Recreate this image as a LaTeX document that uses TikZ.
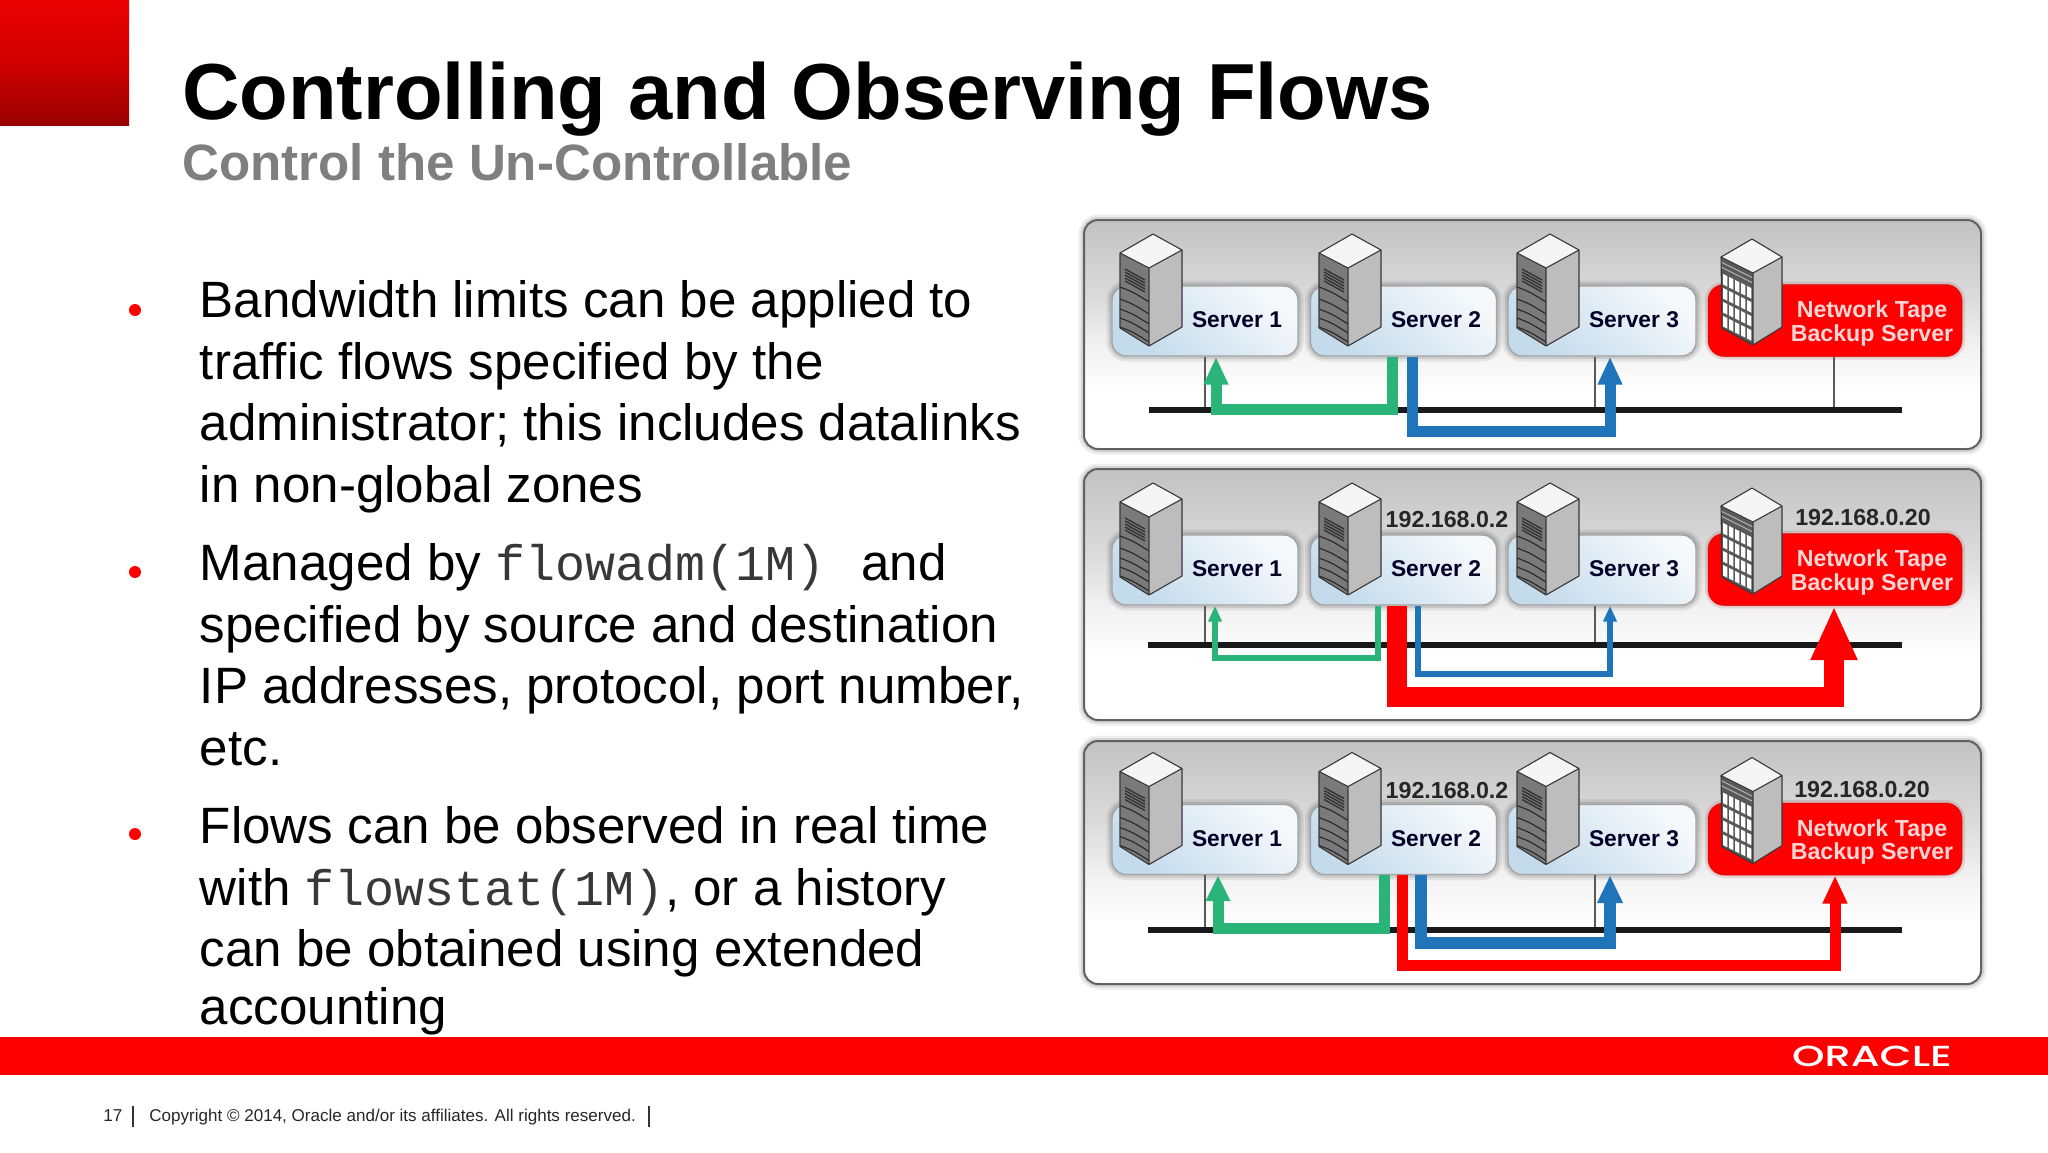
\documentclass[tikz,border=0pt]{standalone}
\usepackage{fontspec}
\usepackage{graphicx}
\setmainfont{Liberation Sans}
\setmonofont{Liberation Mono}
\newfontfamily\logofont{Poppins Medium}
\usetikzlibrary{arrows.meta,calc}
\definecolor{orared}{HTML}{FF0000}
\definecolor{flowgreen}{HTML}{2BB477}
\definecolor{flowblue}{HTML}{1F74BA}
\definecolor{subgrey}{HTML}{7F7F7F}
\definecolor{pilllow}{HTML}{C4DBEC}
\definecolor{pillhigh}{HTML}{F6F9FB}
\newcommand\fpt[1]{\fontsize{#1}{#1}\selectfont}
\newcommand\mono[1]{{\ttfamily\fpt{25}\color{black!78}#1}}
\pgfdeclareverticalshading{panelshade}{100bp}{color(0bp)=(white); color(25bp)=(white); color(37bp)=(white); color(47bp)=(black!5); color(58bp)=(black!14); color(75bp)=(black!24); color(100bp)=(black!24)}
\tikzset{
  x=0.5pt,y=-0.5pt,
  softedge/.style={preaction={draw=black,draw opacity=.07,line width=5.5pt},preaction={draw=black,draw opacity=.1,line width=3pt}},
  panelbox/.style={softedge,rounded corners=7pt,draw=black!62,line width=1pt,shading=panelshade},
  pillbox/.style={softedge,draw=black!36,line width=.7pt,rounded corners=7pt,bottom color=pilllow,top color=pillhigh,shading angle=-40,minimum height=35pt},
  redbox/.style={preaction={draw=red!60!black,draw opacity=.12,line width=3pt},draw=red!80!black,draw opacity=.5,line width=.5pt,rounded corners=8pt,fill=orared,minimum width=127pt,minimum height=36pt},
  srvtext/.style={font=\bfseries\fpt{11.4},text=black!85!blue},
  redtext/.style={font=\bfseries\fpt{11.6},text=red!16!white,align=center},
  iptext/.style={font=\bfseries\fpt{11.6},text=black!85},
  busline/.style={draw=black!90},
  thinline/.style={draw=black!65,line width=.55pt},
  flowg/.style={draw=flowgreen},
  flowb/.style={draw=flowblue},
  flowr/.style={draw=orared},
  body/.style={anchor=base west,font=\fpt{25.55},inner sep=0pt,text=black},
  bulletdot/.style={circle,fill=orared,inner sep=0pt,minimum size=6pt},
}
\newcommand\srv[2]{%
\begin{scope}[shift={(#1,#2)},line join=round]
  \fill[black!52] (-33,19)--(-4,34)--(-4,112)--(-33,94)--cycle;
  \foreach \d in {38,50,60,69,78}{\draw[black!85,line width=.55pt] (-33,19+\d-4) .. controls (-20,19+\d+1) .. (-4,34+\d-4);}
  \foreach \d in {18,21,24,27,30}{\draw[black!80,line width=.7pt] (-28,21+\d-4) -- (-8,32+\d-4);}
  \fill[black!26] (-4,34)--(29,16)--(29,93)--(-4,112)--cycle;
  \fill[black!4] (0,0)--(29,16)--(-4,34)--(-33,19)--cycle;
  \draw[black!78,line width=.55pt] (0,0)--(29,16)--(29,93)--(-4,112)--(-33,94)--(-33,19)--cycle (-33,19)--(-4,34)--(29,16) (-4,34)--(-4,112);
\end{scope}}
\newcommand\tapesrv[2]{%
\begin{scope}[shift={(#1,#2)},line join=round]
  \fill[black!65] (-31,18)--(1,34)--(1,106)--(-30,89)--cycle;
  \foreach \d in {5,10}{\draw[white!70!black,line width=.5pt] (-31,18+\d)--(1,34+\d);}
  \foreach \r in {16,30,44,58}{\foreach \c in {0,1,2,3,4}{
    \pgfmathsetmacro\cx{-29+\c*6}
    \pgfmathsetmacro\cy{18+(\cx+31)*0.5+\r}
    \fill[white] (\cx,\cy)--++(4.4,2.2)--++(0,10.5)--++(-4.4,-2.2)--cycle;}}
  \fill[black!26] (1,34)--(30,18)--(30,88)--(1,106)--cycle;
  \fill[black!4] (0,0)--(30,18)--(1,34)--(-31,18)--cycle;
  \draw[black!78,line width=.55pt] (0,0)--(30,18)--(30,88)--(1,106)--(-30,89)--(-31,18)--cycle (-31,18)--(1,34)--(30,18) (1,34)--(1,106);
\end{scope}}
\newcommand\serverrow[2]{%
\begin{scope}[shift={(0,#2)}]
  \node[pillbox,minimum width=93pt] (s#11) at (1205,321) {};
  \node[pillbox,minimum width=93pt] (s#12) at (1403.5,321) {};
  \node[pillbox,minimum width=94pt] (s#13) at (1602,321) {};
  \node[redbox] (s#14) at (1835,320.5) {};
  \srv{1153}{234}\srv{1352}{234}\srv{1550}{234}\tapesrv{1752}{239}
  \node[srvtext] (t#11) at (1237,320) {Server 1};
  \node[srvtext] (t#12) at (1436,320) {Server 2};
  \node[srvtext] (t#13) at (1634,320) {Server 3};
  \node[redtext] (t#14) at (1872,323.5) {\baselineskip=12pt\relax Network Tape\\Backup Server};
\end{scope}}
\begin{document}
\begin{tikzpicture}
\useasboundingbox (0,0) rectangle (2048,1152);
\fill[white] (0,0) rectangle (2048,1152);
% corner
\shade[top color=red!92!black,bottom color=red!60!black,middle color=red!82!black] (0,0) rectangle (129,125);
\node[anchor=base west,inner sep=0pt,font=\bfseries\fpt{39.75}] (title) at (182,119) {Controlling and Observing Flows};
\node[anchor=base west,inner sep=0pt,font=\bfseries\fpt{25.55},text=subgrey] (subtitle) at (182,180) {Control the Un-Controllable};
% bullets
\node[bulletdot] (b1) at (135,310) {};
\node[bulletdot] (b2) at (135,572) {};
\node[bulletdot] (b3) at (135,834) {};
\node[body] (l1) at (199.5,317) {Bandwidth limits can be applied to};
\node[body] (l2) at (199.5,379) {traffic flows specified by the};
\node[body] (l3) at (199.5,440) {administrator; this includes datalinks};
\node[body] (l4) at (199.5,502) {in non-global zones};
\node[body] (l5) at (199.5,580) {Managed by \mono{flowadm(1M)}\hspace{18pt}and};
\node[body] (l6) at (199.5,642) {specified by source and destination};
\node[body] (l7) at (199.5,703) {IP addresses, protocol, port number,};
\node[body] (l8) at (199.5,765) {etc.};
\node[body] (l9) at (199.5,843) {Flows can be observed in real time};
\node[body] (l10) at (199.5,905) {with \mono{flowstat(1M)}, or a history};
\node[body] (l11) at (199.5,966) {can be obtained using extended};
\node[body] (l12) at (199.5,1024) {accounting};
% panels
\path[panelbox] (1084,220) rectangle (1981,449);
\path[panelbox] (1084,469) rectangle (1981,720);
\path[panelbox] (1084,741) rectangle (1981,984);
\serverrow{a}{0}
\serverrow{b}{249}
\serverrow{c}{518.5}
% panel 1 wiring
\coordinate (busa1) at (1149,410); \coordinate (busa2) at (1902,410);
\draw[thinline] (sa1.south -| 1205,0) -- (1205,410);
\draw[thinline] (sa3.south -| 1595,0) -- (1595,410);
\draw[thinline] (sa4.south -| 1834,0) -- (1834,410);
\draw[busline,line width=2.6pt] (busa1) -- (busa2);
\draw[flowg,line width=5.5pt,-{Triangle[length=14pt,width=11.5pt]}] (1392,0 |- sa2.south) |- (1216,409) -- (1216,0 |- sa1.south);
\draw[flowb,line width=5.5pt,-{Triangle[length=14pt,width=11.5pt]}] (1412,0 |- sa2.south) |- (1610,431) -- (1610,0 |- sa3.south);
% panel 2 wiring
\coordinate (busb1) at (1148,645); \coordinate (busb2) at (1902,645);
\draw[thinline] (sb1.south -| 1205,0) -- (1205,645);
\draw[thinline] (sb3.south -| 1595,0) -- (1595,645);
\draw[busline,line width=3.4pt] (busb1) -- (busb2);
\draw[flowg,line width=2.6pt,-{Triangle[length=8pt,width=6.5pt]}] (1378,0 |- sb2.south) |- (1215,658) -- (1215,0 |- sb1.south);
\draw[flowb,line width=2.6pt,-{Triangle[length=8pt,width=6.5pt]}] (1418,0 |- sb2.south) |- (1610,674) -- (1610,0 |- sb3.south);
\draw[flowr,line width=10pt,-{Triangle[length=27pt,width=21.5pt]}] (1397,0 |- sb2.south) |- (1834,697) -- (1834,0 |- sb4.south);
\node[iptext] (ipb2) at (1447,520) {192.168.0.2};
\node[iptext] (ipb4) at (1863,518) {192.168.0.20};
% panel 3 wiring
\coordinate (busc1) at (1148,930); \coordinate (busc2) at (1902,930);
\draw[thinline] (sc1.south -| 1205,0) -- (1205,930);
\draw[thinline] (sc3.south -| 1595,0) -- (1595,930);
\draw[busline,line width=3pt] (busc1) -- (busc2);
\draw[flowg,line width=5.5pt,-{Triangle[length=13pt,width=11.5pt]}] (1384,0 |- sc2.south) |- (1218,928) -- (1218,0 |- sc1.south);
\draw[flowb,line width=6pt,-{Triangle[length=14pt,width=12pt]}] (1421,0 |- sc2.south) |- (1610,943) -- (1610,0 |- sc3.south);
\draw[flowr,line width=5.5pt,-{Triangle[length=14pt,width=11.5pt]}] (1402,0 |- sc2.south) |- (1835,965) -- (1835,0 |- sc4.south);
\node[iptext] (ipc2) at (1447,790) {192.168.0.2};
\node[iptext] (ipc4) at (1862,789) {192.168.0.20};
% footer
\fill[orared] (0,1037) rectangle (2048,1075);
\node[inner sep=0pt,text=white,font=\logofont\fpt{14.5}] (logo) at (1872,1056) {\scalebox{1.43}[1]{ORACLE}};
\node[anchor=base west,inner sep=0pt,font=\fpt{8.6},text=black!85] (pnum) at (103,1121) {17};
\coordinate (bar1a) at (133,1106); \coordinate (bar1b) at (133,1127);
\draw[black!80,line width=.6pt] (bar1a) -- (bar1b);
\node[anchor=base west,inner sep=0pt,font=\fpt{8.52},text=black!85] (copy) at (149,1121) {Copyright © 2014, Oracle and/or its affiliates. All rights reserved.};
\coordinate (bar2a) at (649,1106); \coordinate (bar2b) at (649,1127);
\draw[black!80,line width=.6pt] (bar2a) -- (bar2b);
\end{tikzpicture}
\end{document}
